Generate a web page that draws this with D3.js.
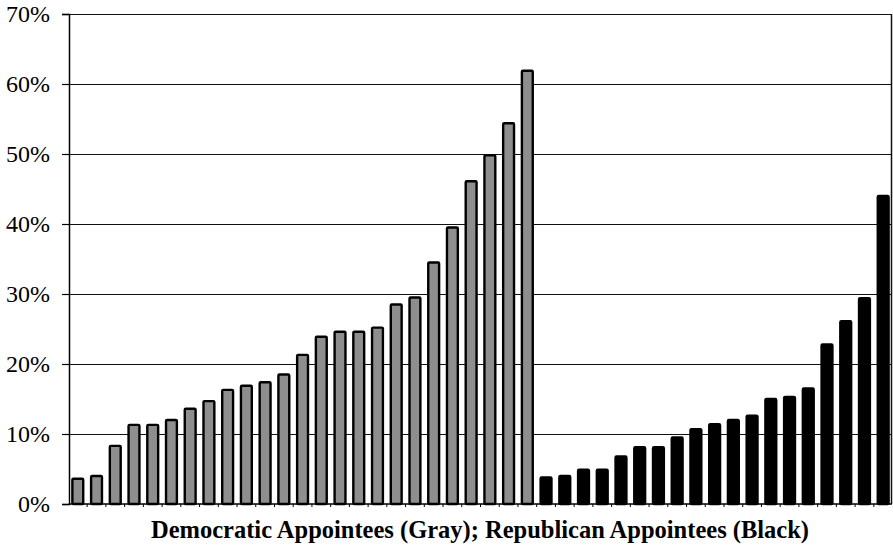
<!DOCTYPE html>
<html lang="en">
<head>
  <meta charset="utf-8">
  <title>Democratic and Republican Appointees</title>
  <script src="https://d3js.org/d3.v7.min.js"></script>
  <style>
    body { margin: 0; background: #fff; }
    text { font-family: "Liberation Serif", "Times New Roman", serif; }
  </style>
</head>
<body>
  <svg id="chart" width="893" height="545"></svg>
  <script>
    // values, in %
    const demValues = [3.6, 4.0, 8.3, 11.3, 11.3, 12.0, 13.6, 14.7, 16.3, 16.9, 17.4, 18.5,
      21.3, 23.9, 24.6, 24.6, 25.2, 28.5, 29.5, 34.5, 39.5, 46.1, 49.8, 54.4, 61.9];
    const repValues = [3.8, 4.0, 4.9, 4.9, 6.8, 8.1, 8.1, 9.5, 10.7, 11.4, 12.0, 12.6,
      15.0, 15.3, 16.5, 22.8, 26.1, 29.4, 44.0];
    const yTicks = [0, 10, 20, 30, 40, 50, 60, 70];
    const xTitle = "Democratic Appointees (Gray); Republican Appointees (Black)";

    const bars = [
      ...demValues.map((v, i) => ({ id: "d" + i, value: v, party: "dem" })),
      ...repValues.map((v, i) => ({ id: "r" + i, value: v, party: "rep" }))
    ];

    const margin = { top: 14, right: 1, bottom: 41, left: 69 };
    const width = 893, height = 545;
    const svg = d3.select("#chart");

    const x = d3.scaleBand()
      .domain(bars.map(d => d.id))
      .range([margin.left, width - margin.right])
      .paddingInner(0.42)
      .paddingOuter(0.18);

    const y = d3.scaleLinear()
      .domain([0, 70])
      .range([height - margin.bottom, margin.top]);

    // gridlines
    svg.append("g")
      .selectAll("line")
      .data(yTicks.filter(t => t > 0))
      .join("line")
      .attr("x1", margin.left)
      .attr("x2", width - margin.right - 1)
      .attr("y1", d => Math.round(y(d)) + 0.5)
      .attr("y2", d => Math.round(y(d)) + 0.5)
      .attr("stroke", "#111")
      .attr("stroke-width", 1.2);

    // right border
    svg.append("line")
      .attr("x1", width - 1.5).attr("x2", width - 1.5)
      .attr("y1", y(70)).attr("y2", y(0))
      .attr("stroke", "#111").attr("stroke-width", 1.5);

    // bars
    svg.append("g")
      .selectAll("rect")
      .data(bars)
      .join("rect")
      .attr("x", d => x(d.id))
      .attr("width", x.bandwidth())
      .attr("y", d => y(d.value))
      .attr("height", d => y(0) - y(d.value))
      .attr("rx", 1)
      .attr("fill", d => d.party === "dem" ? "#8e8e8e" : "#000")
      .attr("stroke", "#000")
      .attr("stroke-width", 2.4);

    // y axis
    const yAxis = svg.append("g")
      .attr("transform", `translate(${margin.left},0)`)
      .call(d3.axisLeft(y).tickValues(yTicks).tickFormat(d => d + "%").tickSize(7).tickPadding(12));
    yAxis.select(".domain").attr("stroke", "#000").attr("stroke-width", 1.5);
    yAxis.selectAll(".tick line").attr("stroke", "#000").attr("stroke-width", 1.2);
    yAxis.selectAll("text")
      .attr("font-family", "Liberation Serif, Times New Roman, serif")
      .attr("font-size", 24)
      .attr("fill", "#000");

    // x axis baseline with small ticks between categories
    const base = y(0);
    svg.append("line")
      .attr("x1", margin.left).attr("x2", width - margin.right)
      .attr("y1", base).attr("y2", base)
      .attr("stroke", "#000").attr("stroke-width", 1.5);
    svg.append("g")
      .selectAll("line")
      .data(bars.slice(1))
      .join("line")
      .attr("x1", d => x(d.id) - x.step() * x.paddingInner() / 2)
      .attr("x2", d => x(d.id) - x.step() * x.paddingInner() / 2)
      .attr("y1", base).attr("y2", base + 3)
      .attr("stroke", "#000").attr("stroke-width", 1);

    // x title
    svg.append("text")
      .attr("x", 480)
      .attr("y", 538)
      .attr("text-anchor", "middle")
      .attr("font-size", 24.5)
      .attr("font-weight", "bold")
      .text(xTitle);
  </script>
</body>
</html>
